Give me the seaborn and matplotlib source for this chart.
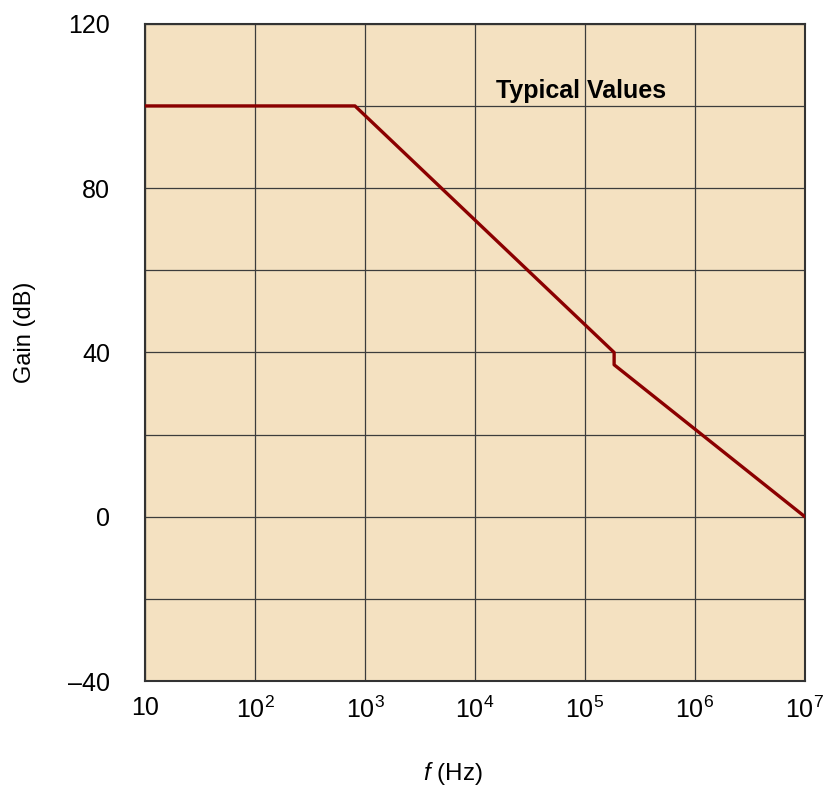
import matplotlib
matplotlib.use("Agg")
import matplotlib.pyplot as plt
import seaborn as sns
from matplotlib.ticker import FixedLocator, FixedFormatter

# Data
freq_hz = [10, 810, 1.84e5, 1.84e5, 1e7]
gain_db = [100, 100, 40, 37, 0]

x_ticks = [1e1, 1e2, 1e3, 1e4, 1e5, 1e6, 1e7]
x_tick_labels = ["10", r"$10^{2}$", r"$10^{3}$", r"$10^{4}$", r"$10^{5}$", r"$10^{6}$", r"$10^{7}$"]
y_major = [-40, 0, 40, 80, 120]
y_major_labels = ["\u201340", "0", "40", "80", "120"]
y_minor = [-20, 20, 60, 100]

sns.set_style("white")
plt.rcParams["font.family"] = ["Liberation Sans", "DejaVu Sans"]
plt.rcParams["mathtext.fontset"] = "custom"
plt.rcParams["mathtext.rm"] = "Liberation Sans"
plt.rcParams["mathtext.it"] = "Liberation Sans:italic"
plt.rcParams["text.color"] = "black"
plt.rcParams["axes.labelcolor"] = "black"

fig = plt.figure(figsize=(8.29, 7.92), dpi=100)
ax = fig.add_axes([0.175, 0.140, 0.796, 0.830])
ax.set_facecolor("#F4E1C1")

sns.lineplot(x=freq_hz, y=gain_db, estimator=None, sort=False, ax=ax,
             color="#8B0000", linewidth=2.4, zorder=3)

ax.set_xscale("log")
ax.set_xlim(10, 1e7)
ax.set_ylim(-40, 120)
ax.xaxis.set_major_locator(FixedLocator(x_ticks))
ax.xaxis.set_major_formatter(FixedFormatter(x_tick_labels))
ax.xaxis.set_minor_locator(FixedLocator([]))
ax.yaxis.set_major_locator(FixedLocator(y_major))
ax.yaxis.set_major_formatter(FixedFormatter(y_major_labels))
ax.yaxis.set_minor_locator(FixedLocator(y_minor))

ax.grid(True, which="both", color="#3c3c3c", linewidth=0.9, zorder=1)
ax.set_axisbelow(True)
ax.tick_params(axis="both", which="both", length=0, labelsize=18, colors="black")
ax.tick_params(axis="x", pad=11)
ax.tick_params(axis="y", pad=25)

for s in ax.spines.values():
    s.set_color("#333333")
    s.set_linewidth(1.5)

ax.set_ylabel("Gain (dB)", fontsize=17, color="black")
ax.set_xlabel(r"$f$ (Hz)", fontsize=17.5, color="black")
ax.yaxis.set_label_coords(-0.165, 0.53)
ax.xaxis.set_label_coords(0.467, -0.12)

ax.text(9.2e4, 103.7, "Typical Values", fontsize=18, fontweight="bold",
        ha="center", va="center", color="black", zorder=4)

fig.savefig("out.png", dpi=100)
